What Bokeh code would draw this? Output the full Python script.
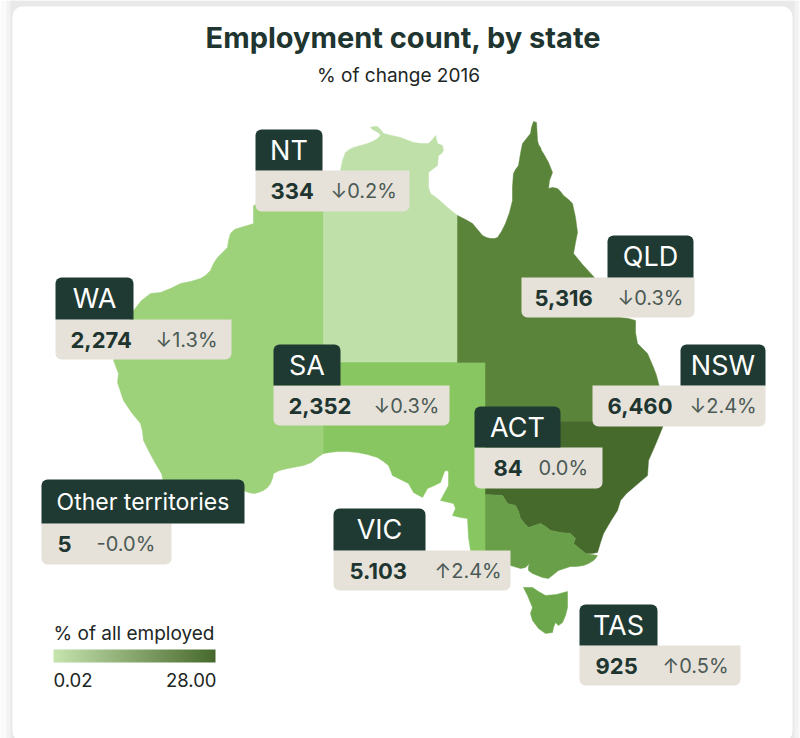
from bokeh.plotting import figure
from bokeh.models import Range1d, ColumnDataSource, LinearColorMapper
from bokeh.core.properties import value
from bokeh.embed import file_html
from bokeh.resources import INLINE
import numpy as np

FONT = "Inter"
INK = "#20352f"

title = "Employment count, by state"
subtitle = "% of change 2016"

states = ["NT", "WA", "SA", "QLD", "NSW", "ACT", "Other territories", "VIC", "TAS"]
counts = ["334", "2,274", "2,352", "5,316", "6,460", "84", "5", "5.103", "925"]
changes = ["↓0.2%", "↓1.3%", "↓0.3%", "↓0.3%", "↓2.4%", "0.0%", "-0.0%", "↑2.4%", "↑0.5%"]

legend_title = "% of all employed"
legend_min = 0.02
legend_max = 28.00
legend_low_color = "#c6e4ae"
legend_high_color = "#48692d"

# State outlines
map_names = ["WA", "NT", "SA", "QLD", "NSW", "VIC", "TAS"]
map_colors = ["#9dd17a", "#bfe0a9", "#88c661", "#5a8439", "#466a2c", "#6a9f49", "#6ca74b"]
wa_x = [323, 253, 253, 247, 240, 234, 230, 228, 227, 222, 217, 213, 210, 205, 200, 190, 180, 170, 160, 150, 141, 133, 113, 118, 117, 120, 123, 131, 140, 142, 143, 149, 155, 161, 165, 243, 248, 253, 258, 263, 267, 270, 272, 273, 279, 287, 303, 311, 317, 323]
wa_y = [180, 205, 223, 225, 227, 229, 233, 240, 247, 252, 257, 263, 270, 275, 278, 281, 283, 288, 292, 293, 300, 310, 360, 373, 382, 391, 400, 412, 423, 431, 440, 452, 463, 473, 490, 490, 492, 493, 492, 490, 487, 483, 478, 473, 470, 468, 465, 462, 457, 453]
nt_x = [323, 340, 342, 345, 349, 353, 360, 367, 372, 377, 379, 380, 376, 372, 370, 373, 377, 380, 383, 391, 400, 413, 421, 428, 432, 435, 437, 442, 443, 441, 438, 437, 433, 428, 428, 430, 437, 447, 457, 457, 323]
nt_y = [190, 170, 160, 152, 149, 147, 145, 143, 141, 138, 136, 134, 131, 129, 127, 126, 126, 129, 133, 135, 137, 142, 143, 143, 139, 135, 143, 145, 150, 153, 155, 165, 168, 172, 187, 193, 198, 207, 215, 362, 362]
sa_x = [323, 486, 486, 470, 468, 467, 460, 452, 455, 453, 440, 448, 448, 446, 444, 440, 434, 427, 422, 413, 408, 400, 392, 390, 388, 383, 377, 367, 357, 347, 337, 329, 323]
sa_y = [362, 362, 560, 550, 537, 518, 517, 515, 508, 503, 500, 485, 471, 470, 471, 482, 485, 488, 497, 492, 483, 479, 475, 470, 465, 461, 457, 454, 452, 451, 451, 452, 453]
qld_x = [457, 465, 472, 477, 482, 486, 490, 494, 497, 501, 505, 509, 512, 512, 513, 515, 518, 519, 520, 521, 522, 526, 530, 531, 533, 536, 537, 538, 540, 541, 543, 548, 552, 549, 548, 552, 557, 560, 563, 568, 572, 575, 577, 575, 573, 582, 593, 620, 628, 635, 635, 637, 642, 647, 650, 653, 656, 658, 665, 664, 485, 485, 457]
qld_y = [215, 219, 223, 229, 235, 237, 238, 238, 237, 231, 223, 212, 200, 186, 173, 169, 165, 159, 153, 148, 143, 138, 133, 127, 121, 122, 140, 144, 147, 150, 153, 162, 172, 180, 188, 187, 188, 191, 195, 199, 203, 217, 232, 242, 253, 264, 276, 317, 318, 320, 332, 343, 348, 353, 360, 367, 375, 383, 410, 421, 421, 362, 362]
nsw_x = [485, 664, 662, 655, 648, 647, 640, 633, 626, 620, 617, 610, 603, 600, 597, 591, 585, 579, 573, 575, 570, 560, 550, 545, 540, 534, 528, 524, 520, 518, 515, 511, 507, 502, 485]
nsw_y = [421, 421, 427, 444, 460, 475, 481, 487, 493, 500, 510, 521, 533, 542, 552, 553, 553, 548, 543, 538, 533, 532, 530, 526, 523, 525, 527, 523, 518, 511, 505, 504, 503, 495, 494]
vic_x = [485, 502, 507, 511, 515, 518, 520, 524, 528, 534, 540, 545, 550, 560, 570, 575, 573, 579, 585, 591, 597, 595, 593, 588, 583, 576, 570, 564, 558, 553, 548, 542, 537, 532, 528, 528, 529, 527, 525, 520, 510, 485]
vic_y = [494, 495, 503, 504, 505, 511, 518, 523, 527, 525, 523, 526, 530, 532, 533, 538, 543, 548, 553, 554, 555, 558, 560, 563, 565, 566, 566, 568, 570, 574, 578, 577, 575, 573, 570, 566, 563, 565, 567, 568, 565, 565]
tas_x = [523, 532, 538, 545, 556, 567, 567, 565, 562, 558, 555, 553, 552, 545, 538, 532, 530, 532, 527]
tas_y = [587, 587, 591, 595, 594, 591, 607, 615, 622, 625, 622, 627, 632, 633, 628, 620, 613, 607, 595]

# Callout layout: left, header right, row right, header top, split, row bottom
box_left = [255, 55, 273, 607, 680, 474, 41, 333, 579]
box_head_right = [322, 133, 340, 693, 765, 560, 244, 425, 657]
box_row_left = [255, 55, 273, 521, 592, 474, 41, 333, 579]
box_row_right = [409, 231, 449, 694, 765, 602, 171, 510, 740]
box_top = [129, 277, 344, 235, 344, 406, 479, 508, 604]
box_mid = [170, 319, 385, 277, 385, 447, 523, 550, 645]
box_bottom = [211, 359, 425, 317, 426, 488, 564, 590, 685]
count_x = [270, 70, 288, 534, 607, 493, 57, 349, 595]
change_x = [330, 155, 373, 617, 689, 538, 96, 434, 662]

p = figure(width=800, height=738, output_backend="svg", toolbar_location=None,
           x_range=Range1d(0, 800), y_range=Range1d(738, 0),
           x_axis_type=None, y_axis_type=None, min_border=0, outline_line_color=None,
           background_fill_color="white", border_fill_color="white")
p.grid.visible = False

# Card with its soft grey edge
p.quad(left=[0], right=[800], top=[0], bottom=[738], fill_color="#fafafa", line_color=None)
p.quad(left=[6], right=[798], top=[0], bottom=[738], fill_color="#f2f2f2", line_color=None)
p.quad(left=[10], right=[794], top=[0], bottom=[738], fill_color="#e9e9e9", line_color=None)
p.quad(left=[12], right=[792], top=[6], bottom=[741], fill_color="white", line_color=None, border_radius=10)

p.patches(xs=[wa_x, nt_x, sa_x, qld_x, nsw_x, vic_x, tas_x],
          ys=[wa_y, nt_y, sa_y, qld_y, nsw_y, vic_y, tas_y],
          fill_color=map_colors, line_color=map_colors, line_width=0.5)


def txt(x, y, text, size, color=INK, align="left", bold=False):
    src = ColumnDataSource(dict(x=x, y=y, t=text))
    p.text("x", "y", text="t", source=src, text_font=value(FONT), text_font_size=size,
           text_color=color, text_align=align, text_baseline="middle",
           text_font_style="bold" if bold else "normal")


# Callouts
p.quad(left=box_row_left, right=box_row_right, top=box_mid, bottom=box_bottom,
       fill_color="#e6e2da", line_color=None, border_radius=(0, 0, 6, 6))
p.quad(left=box_left, right=box_head_right, top=box_top, bottom=box_mid,
       fill_color="#1f3a32", line_color=None, border_radius=(6, 6, 0, 0))

head_cx = [(a + b) / 2 for a, b in zip(box_left, box_head_right)]
head_cy = [(a + b) / 2 for a, b in zip(box_top, box_mid)]
row_cy = [(a + b) / 2 for a, b in zip(box_mid, box_bottom)]
big = [i for i, s in enumerate(states) if len(s) < 5]
small = [i for i, s in enumerate(states) if len(s) >= 5]
txt([head_cx[i] for i in big], [head_cy[i] for i in big], [states[i] for i in big], "27px", "white", "center")
txt([head_cx[i] for i in small], [head_cy[i] for i in small], [states[i] for i in small], "23px", "white", "center")
txt(count_x, row_cy, counts, "22px", INK, "left", True)
txt(change_x, row_cy, changes, "20px", "#4c5a55")

# Title
txt([403], [37], [title], "29px", INK, "center", True)
txt([398], [75], [subtitle], "19px", "#1c2624", "center")

# Legend
ramp = np.linspace(legend_min, legend_max, 256)[None, :]
r0, g0, b0 = [int(legend_low_color[i:i + 2], 16) for i in (1, 3, 5)]
r1, g1, b1 = [int(legend_high_color[i:i + 2], 16) for i in (1, 3, 5)]
palette = ["#%02x%02x%02x" % (round(r0 + (r1 - r0) * t), round(g0 + (g1 - g0) * t), round(b0 + (b1 - b0) * t))
           for t in np.linspace(0, 1, 256)]
mapper = LinearColorMapper(palette=palette, low=legend_min, high=legend_max)
p.image(image=[ramp], x=53, y=649, dw=162, dh=13, color_mapper=mapper)
txt([53], [633], [legend_title], "19px", "#1c2624")
txt([53], [679], [f"{legend_min:.2f}"], "18.5px", "#1c2624")
txt([216], [679], [f"{legend_max:.2f}"], "18.5px", "#1c2624", "right")

open("out.html", "w").write(file_html(p, INLINE))
